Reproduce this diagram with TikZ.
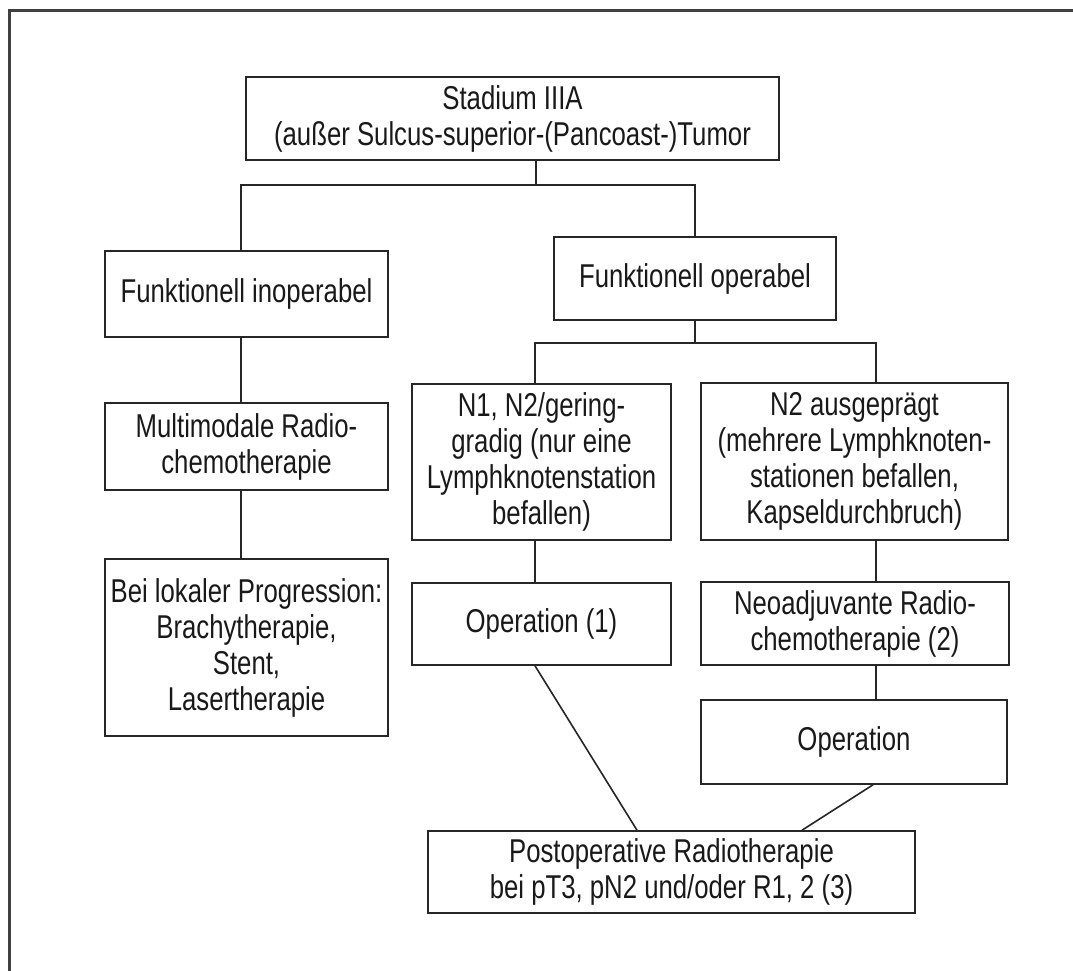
\documentclass[tikz,border=0pt]{standalone}
\usepackage{fontspec}
\setmainfont{Liberation Sans}[FakeStretch=0.78]
\begin{document}
\begin{tikzpicture}[x=1pt,y=-1pt,
  line/.style={draw=black!85, line width=1.6pt},
  box/.style={line, rectangle, inner sep=0pt, align=center, text=black!90,
    font=\fontsize{33}{36}\selectfont},
  conn/.style={draw=black!85, line width=1.6pt}]
\useasboundingbox[fill=white] (0,0) rectangle (1073,971);
% partial outer frame
\draw[draw=black!75, line width=3pt] (9,971) -- (9,11) -- (1073,11);
% boxes
\node[box, minimum width=533pt, minimum height=83pt] (top) at (512.5,118.5)
  {Stadium IIIA\\(außer Sulcus-superior-(Pancoast-)Tumor};
\node[box, minimum width=283pt, minimum height=86pt] (inop) at (246.5,294)
  {Funktionell inoperabel};
\node[box, minimum width=282pt, minimum height=83pt] (op) at (695,278.5)
  {Funktionell operabel};
\node[box, minimum width=283pt, minimum height=87pt] (multi) at (246.5,446.5)
  {Multimodale Radio-\\chemotherapie};
\node[box, minimum width=283pt, minimum height=177pt] (bei) at (246.5,647.5)
  {Bei lokaler Progression:\\Brachytherapie,\\Stent,\\Lasertherapie};
\node[box, minimum width=259pt, minimum height=156pt] (n1) at (541.5,462)
  {N1, N2/gering-\\gradig (nur eine\\Lymphknotenstation\\befallen)};
\node[box, minimum width=259pt, minimum height=82pt] (op1) at (541.5,624)
  {Operation (1)};
\node[box, minimum width=307pt, minimum height=157pt] (n2) at (854.5,461.5)
  {N2 ausgeprägt\\(mehrere Lymphknoten-\\stationen befallen,\\Kapseldurchbruch)};
\node[box, minimum width=308pt, minimum height=83pt] (neo) at (855,623.5)
  {Neoadjuvante Radio-\\chemotherapie (2)};
\node[box, minimum width=306pt, minimum height=84pt] (op2) at (854,742)
  {Operation};
\node[box, minimum width=487pt, minimum height=82pt] (post) at (671.5,872)
  {Postoperative Radiotherapie\\bei pT3, pN2 und/oder R1, 2 (3)};
% junction coordinates
\coordinate (j) at (536,185);
\coordinate (jl) at (241,185);
\coordinate (jr) at (695,185);
\coordinate (k) at (695,343);
\coordinate (kl) at (535,343);
\coordinate (kr) at (876,343);
\coordinate (p1) at (637,831);
\coordinate (p2) at (802,831);
\coordinate (q1) at (535,665);
\coordinate (q2) at (873,784);
% connectors
\draw[conn] (top.south -| j) -- (j);
\draw[conn] (inop.north -| jl) -- (jl) -- (jr) -- (op.north);
\draw[conn] (inop.south -| jl) -- (multi.north -| jl);
\draw[conn] (multi.south -| jl) -- (bei.north -| jl);
\draw[conn] (op.south) -- (k);
\draw[conn] (n1.north -| kl) -- (kl) -- (kr) -- (n2.north -| kr);
\draw[conn] (n1.south -| kl) -- (op1.north -| kl);
\draw[conn] (n2.south -| kr) -- (neo.north -| kr);
\draw[conn] (neo.south -| kr) -- (op2.north -| kr);
\draw[conn] (op1.south -| q1) -- (post.north -| p1);
\draw[conn] (op2.south -| q2) -- (post.north -| p2);
\end{tikzpicture}
\end{document}
